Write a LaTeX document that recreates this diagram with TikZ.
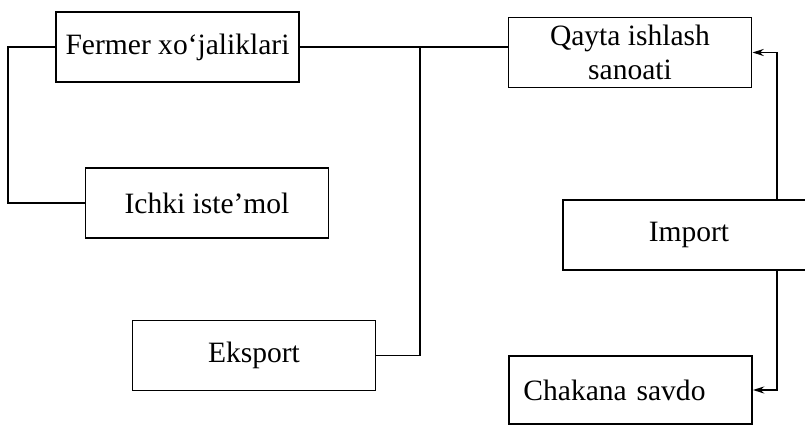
\documentclass[tikz,border=0pt]{standalone}
\usepackage{fontspec}
\setmainfont{Liberation Serif}
\usetikzlibrary{arrows.meta}
\tikzset{
	blok/.style={draw,line width=1.2pt,minimum width=6.08cm,minimum height=1.75cm,inner sep=0pt,font=\fontsize{21}{24}\selectfont},
	lin/.style={line width=1.2pt},
	strel/.style={lin,-{Stealth[length=8pt,width=5pt]}}
}
\begin{document}
	\begin{tikzpicture}[x=0.025cm,y=-0.025cm]
		\clip (0,0) rectangle (805,425);
		\fill[white] (0,0) rectangle (805,425);
		\node[blok] (ferm) at (177.5,47) {Fermer xo‘jaliklari};
		\node[blok] (ichki) at (207,203) {Ichki iste’mol};
		\node[blok] (eksport) at (254,355.5) {Eksport};
		\node[blok,align=center] (qayta) at (630,52.5) {Qayta ishlash\\sanoati};
		\node[blok,minimum width=6.3cm] (import) at (689,235) {Import};
		\node[blok,minimum height=1.7cm,text width=5.35cm,align=left] (chakana) at (630.5,390) {Chakana savdo};
		\coordinate (jn) at (420,46);
		\coordinate (rt) at (777,53);
		%\draw[lin] (ferm.east) -- (qayta.west);
		\draw[lin] (ferm.west) -- ++(-47,0) |- (ichki.west);
		\draw[lin] (ferm.east) -- (ferm.east -| qayta.west);
		\draw[lin] (ferm.east -| jn) |- (eksport.east);
		\draw[strel] (import.north -| rt) |- (qayta.east);
		\draw[strel] (import.south -| rt) |- (chakana.east);
	\end{tikzpicture}
\end{document}
